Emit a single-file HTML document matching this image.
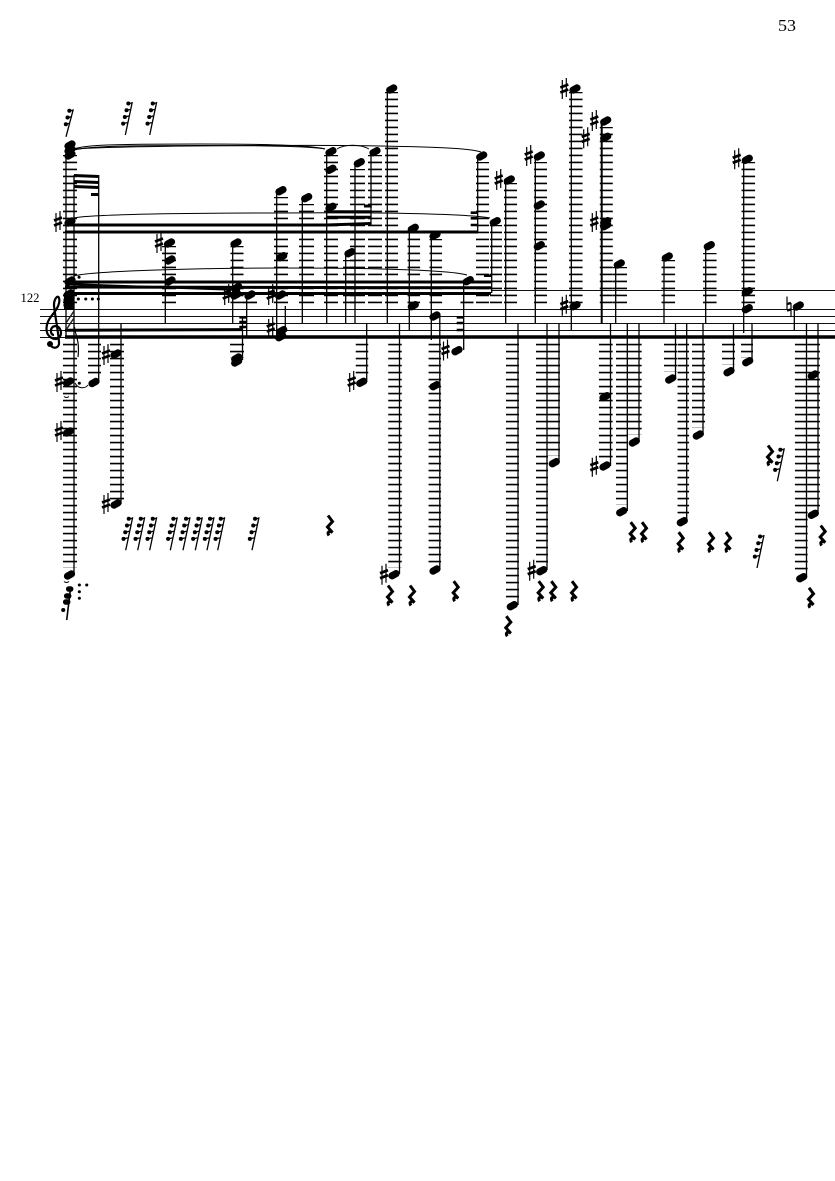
<!DOCTYPE html>
<html>
<head>
<meta charset="utf-8">
<style>
html,body{margin:0;padding:0;background:#fff;width:835px;height:1181px;overflow:hidden}
svg{display:block}
.t{font-family:"Liberation Serif",serif;fill:#000}
.st{stroke:#111;stroke-width:1;fill:none}
.s{stroke:#000;stroke-width:1.3;fill:none}
.b{stroke:#000;fill:none;stroke-width:3}
.n{stroke:#000;stroke-width:7.2;stroke-linecap:round;fill:none}
.l{stroke:#000;stroke-width:1.3;stroke-dasharray:1.7 5.3;fill:none}
.h{stroke:#000;stroke-width:1.2;fill:none}
.v{stroke:#000;stroke-width:2;fill:none}
.sl{stroke:#000;stroke-width:1;fill:none}
.d{stroke:#000;stroke-width:4;stroke-linecap:round;fill:none}
.d2{stroke:#000;stroke-width:3;stroke-linecap:round;fill:none}
</style>
</head>
<body>
<svg width="835" height="1181" viewBox="0 0 835 1181" xmlns="http://www.w3.org/2000/svg">
<rect width="835" height="1181" fill="#fff"/>
<text class="t" x="778" y="31" font-size="17" textLength="18" lengthAdjust="spacingAndGlyphs">53</text>
<text class="t" x="20.5" y="302" font-size="12.5" textLength="19" lengthAdjust="spacingAndGlyphs">122</text>

<!-- staff -->
<path class="st" d="M40 309.5H835M40 316.5H835M40 323.5H835M40 330.5H835M40 337.5H835"/>
<path class="st" d="M491 290.5H835"/>

<!-- upper ledgers: bottom-up -->
<path class="l" style="stroke-width:14" d="M70 303.3V155"/>
<path class="l" style="stroke-width:14" d="M169 303.3V246"/>
<path class="l" style="stroke-width:13" d="M237 303.3V246"/>
<path class="l" style="stroke-width:14" d="M281 303.3V197"/>
<path class="l" style="stroke-width:15" d="M306.500 303.3V204"/>
<path class="l" style="stroke-width:14" d="M331 303.3V155"/>
<path class="l" style="stroke-width:15" d="M357.500 303.3V169"/>
<path class="l" style="stroke-width:14" d="M375 303.3V155"/>
<path class="l" style="stroke-width:12" d="M349 303.3V260"/>
<path class="l" style="stroke-width:13" d="M391.500 303.3V92"/>
<path class="l" style="stroke-width:12.5" d="M413.800 303.3V232"/>
<path class="l" style="stroke-width:12.5" d="M435.800 303.3V239"/>
<path class="l" style="stroke-width:13" d="M482.500 303.3V162"/>
<path class="l" style="stroke-width:12" d="M496 303.3V225"/>
<path class="l" style="stroke-width:13" d="M510.500 303.3V183"/>
<path class="l" style="stroke-width:13" d="M540.500 303.3V162"/>
<path class="l" style="stroke-width:13.5" d="M575.800 303.3V92"/>
<path class="l" style="stroke-width:13" d="M606.300 303.3V127"/>
<path class="l" style="stroke-width:14" d="M620 303.3V267"/>
<path class="l" style="stroke-width:13.5" d="M668.300 303.3V260"/>
<path class="l" style="stroke-width:13.5" d="M709.800 303.3V253"/>
<path class="l" style="stroke-width:13.5" d="M748.300 303.3V162"/>
<path class="l" style="stroke-width:14" d="M250 303.3V300"/>
<path class="l" style="stroke-width:13" d="M467 303.3V300"/>

<!-- lower ledgers: top-down -->
<path class="l" style="stroke-width:14" d="M70 343.7V568"/>
<path class="l" style="stroke-width:13" d="M94.500 343.7V375"/>
<path class="l" style="stroke-width:14" d="M117 343.7V500"/>
<path class="l" style="stroke-width:14" d="M237 343.7V358"/>
<path class="l" style="stroke-width:12.5" d="M362 343.7V376"/>
<path class="l" style="stroke-width:13.5" d="M395 343.7V568"/>
<path class="l" style="stroke-width:12.5" d="M434.800 343.7V565"/>
<path class="l" style="stroke-width:13" d="M512.500 343.7V600"/>
<path class="l" style="stroke-width:12" d="M542 343.7V565"/>
<path class="l" style="stroke-width:12" d="M554 343.7V456"/>
<path class="l" style="stroke-width:13.7" d="M605.800 343.7V460"/>
<path class="l" style="stroke-width:12" d="M622 343.7V505"/>
<path class="l" style="stroke-width:13.7" d="M634.800 343.7V435"/>
<path class="l" style="stroke-width:13" d="M670.500 343.7V372"/>
<path class="l" style="stroke-width:11.5" d="M683.300 343.7V515"/>
<path class="l" style="stroke-width:13" d="M698.500 343.7V428"/>
<path class="l" style="stroke-width:13" d="M728.500 343.7V365"/>
<path class="l" style="stroke-width:12" d="M747 343.7V358"/>
<path class="l" style="stroke-width:12.7" d="M801.300 343.7V571"/>
<path class="l" style="stroke-width:12.3" d="M813.800 343.7V508"/>

<!-- stems -->
<path class="s" d="M74 175V575M66 145V337M98.700 175V382M121 323V504M165.300 243V323M232.700 243V323M246.700 295V337M242.500 317V360M276.700 190V337M285.300 306V332M302.300 198V323M326.700 152V323M355 163V323M371 152V225M345.700 253V323M387.300 90V323M409.300 228V330M431.300 235V340M463.700 280V350M477.700 156V232M491.700 222V293M505.700 180V323M535.300 156V323M571.300 90V330M615.700 264V323M664 257V323M705.700 246V323M743.700 160V333M794.300 306V330"/>
<path class="v" d="M601.700 121V323"/>
<path class="s" d="M366.700 323V382M399.500 323V574M439.800 316V570M518 323V605M547 323V570M559 323V462M610.500 323V466M627.300 323V511M639 323V442M675.500 323V379M686.700 323V521M703 323V435M733.500 323V371M752 323V361M806.500 323V577M818 323V514"/>

<!-- beams -->
<path class="b" d="M65 337H835" style="stroke-width:3.6"/>
<path class="b" d="M65 330.300L243 329.600"/>
<path class="b" d="M74 175.500L98.700 176.500M74 181.500L98.700 182.500M74 186.500L98.700 187.500M91 194.500H98.700"/>
<path class="b" d="M65 225L327 225L371 223.500"/>
<path class="b" d="M65 232H478"/>
<path class="b" d="M327 211.700H371M327 217.300H371M364 206H371.700"/>
<path class="b" d="M65 282H491"/>
<path class="b" d="M65 287L491 287.800"/>
<path class="b" d="M65 293.500H491"/>
<path class="b" style="stroke-width:2" d="M66 284L240 290"/>
<path class="b" style="stroke-width:2.6" d="M470.700 212.700H478M470.700 218.300H478M470.700 225H478"/>
<path class="b" style="stroke-width:2.6" d="M484 275.700H491.700"/>
<path class="b" style="stroke-width:2.6" d="M239.300 317.300H246.700M239.300 322H246.700M239.300 327H246.700"/>
<path class="b" style="stroke-width:2.6" d="M456.700 317.300H463.700M456.700 323H463.700M456.700 330H463.700"/>

<!-- slurs -->
<path class="sl" d="M74 149C85 145 110 144 200 144C260 144 310 145 325 149"/>
<path class="sl" d="M74 150C90 146 130 145.500 200 145.500C260 145.500 310 146 325 149"/>
<path class="sl" d="M337 149C345 144 360 144 369 149"/>
<path class="sl" d="M74 149C140 145 340 145 380 146C430 147 470 148 481 152"/>
<path class="sl" d="M74 218C90 214 200 213 280 213C380 212 470 214 490 218"/>
<path class="sl" d="M74 276C90 271 200 268 280 268C380 268 450 270 467 275"/>
<path class="sl" d="M75 383C78 389 85 389 88 385"/>
<path class="sl" d="M64 396.500Q66.500 398.500 69 396.500M64 581.500Q66.500 583.500 69 581.500"/>

<!-- noteheads -->
<path class="n" d="
M70 145m-2 1.100l4-2.200M70 150m-2 1.100l4-2.200M70 155m-2 1.100l4-2.200
M70 222m-2 1.100l4-2.200M70 281m-2 1.100l4-2.200
M69 294m-2 1.100l4-2.200M69 299m-2 1.100l4-2.200M69 304m-2 1.100l4-2.200
M68.500 382m-2 1.100l4-2.200M68.500 432m-2 1.100l4-2.200M69.500 575m-2 1.100l4-2.200
M94 382.500m-2 1.100l4-2.200M116 354m-2 1.100l4-2.200M116 504m-2 1.100l4-2.200
M169.500 243m-2 1.100l4-2.200M170 260m-2 1.100l4-2.200M170 281m-2 1.100l4-2.200
M236 243m-2 1.100l4-2.200M236.700 287.500m-2 1.100l4-2.200M236 295m-2 1.100l4-2.200M250 295m-2 1.100l4-2.200
M236.700 358m-2 1.100l4-2.200M236.700 362m-2 1.100l4-2.200
M281 190.700m-2 1.100l4-2.200M281.700 256.700m-2 1.100l4-2.200M280.700 295m-2 1.100l4-2.200M281.700 330.700m-2 1.100l4-2.200M280.700 336.700m-2 1.100l4-2.200
M306.700 197.700m-2 1.100l4-2.200M331 151.700m-2 1.100l4-2.200M331 169.300m-2 1.100l4-2.200M331 207.300m-2 1.100l4-2.200
M375 151.700m-2 1.100l4-2.200M359.300 162.700m-2 1.100l4-2.200M350 252.700m-2 1.100l4-2.200M391.700 89m-2 1.100l4-2.200
M413.300 228.300m-2 1.100l4-2.200M413.300 305.700m-2 1.100l4-2.200M435 235.300m-2 1.100l4-2.200M435 316m-2 1.100l4-2.200
M468.300 280.700m-2 1.100l4-2.200M457 350.700m-2 1.100l4-2.200M481.700 156m-2 1.100l4-2.200M495.300 221.700m-2 1.100l4-2.200M509.300 180m-2 1.100l4-2.200
M539.300 156m-2 1.100l4-2.200M539.300 205m-2 1.100l4-2.200M539.300 245.700m-2 1.100l4-2.200
M575 89m-2 1.100l4-2.200M575 305.700m-2 1.100l4-2.200
M605.700 121m-2 1.100l4-2.200M605.700 137.300m-2 1.100l4-2.200M605.700 221.700m-2 1.100l4-2.200M605.700 225.700m-2 1.100l4-2.200
M619.300 264m-2 1.100l4-2.200M667.300 257m-2 1.100l4-2.200M709.300 245.700m-2 1.100l4-2.200
M747.300 159.300m-2 1.100l4-2.200M747.300 291.700m-2 1.100l4-2.200M747.300 308.700m-2 1.100l4-2.200M798.300 306m-2 1.100l4-2.200
M361.700 382.300m-2 1.100l4-2.200M394 574.700m-2 1.100l4-2.200M435 385.700m-2 1.100l4-2.200M435 570m-2 1.100l4-2.200
M512.300 605.700m-2 1.100l4-2.200M541.700 570.700m-2 1.100l4-2.200M554.300 462.700m-2 1.100l4-2.200
M605 396.700m-2 1.100l4-2.200M605 466m-2 1.100l4-2.200M621.700 511.700m-2 1.100l4-2.200M634.300 442m-2 1.100l4-2.200
M670.700 379m-2 1.100l4-2.200M682.300 521.700m-2 1.100l4-2.200M698.300 435m-2 1.100l4-2.200M729 371.700m-2 1.100l4-2.200M747.700 361.700m-2 1.100l4-2.200
M801.700 577.700m-2 1.100l4-2.200M813.300 375m-2 1.100l4-2.200M813.300 514.300m-2 1.100l4-2.200"/>

<!-- sharps -->
<path class="h" d="
M58 222m-2-9v19m4-21v19M59 382m-2-9v19m4-21v19M59 432m-2-9v19m4-21v19
M106 355m-2-9v19m4-21v19M106 504m-2-9v19m4-21v19M159 243m-2-9v19m4-21v19
M226.700 295m-2-9v19m4-21v19M270.700 295m-2-9v19m4-21v19M270.700 328m-2-9v19m4-21v19
M351.700 382m-2-9v19m4-21v19M384 574.700m-2-9v19m4-21v19M445.500 350.500m-2-9v19m4-21v19
M498.700 180m-2-9v19m4-21v19M528.700 156m-2-9v19m4-21v19M531.700 570.700m-2-9v19m4-21v19
M564.300 89m-2-9v19m4-21v19M564.300 305.700m-2-9v19m4-21v19M585.700 138.300m-2-9v19m4-21v19
M594.300 121m-2-9v19m4-21v19M594.300 222m-2-9v19m4-21v19M594.300 466.700m-2-9v19m4-21v19
M736.700 159.300m-2-9v19m4-21v19"/>
<path stroke="#000" stroke-width="2.8" fill="none" d="
M58 222m-4-1.500l8-3m-8 8l8-3M59 382m-4-1.500l8-3m-8 8l8-3M59 432m-4-1.500l8-3m-8 8l8-3
M106 355m-4-1.500l8-3m-8 8l8-3M106 504m-4-1.500l8-3m-8 8l8-3M159 243m-4-1.500l8-3m-8 8l8-3
M226.700 295m-4-1.500l8-3m-8 8l8-3M270.700 295m-4-1.500l8-3m-8 8l8-3M270.700 328m-4-1.500l8-3m-8 8l8-3
M351.700 382m-4-1.500l8-3m-8 8l8-3M384 574.700m-4-1.500l8-3m-8 8l8-3M445.500 350.500m-4-1.500l8-3m-8 8l8-3
M498.700 180m-4-1.500l8-3m-8 8l8-3M528.700 156m-4-1.500l8-3m-8 8l8-3M531.700 570.700m-4-1.500l8-3m-8 8l8-3
M564.300 89m-4-1.500l8-3m-8 8l8-3M564.300 305.700m-4-1.500l8-3m-8 8l8-3M585.700 138.300m-4-1.500l8-3m-8 8l8-3
M594.300 121m-4-1.500l8-3m-8 8l8-3M594.300 222m-4-1.500l8-3m-8 8l8-3M594.300 466.700m-4-1.500l8-3m-8 8l8-3
M736.700 159.300m-4-1.500l8-3m-8 8l8-3"/>
<!-- natural -->
<path class="h" d="M787 296.500V310M791 303V317"/>
<path stroke="#000" stroke-width="2.4" fill="none" d="M787 304L791 303M787 310.500L791 309.500"/>

<!-- clef -->
<path fill="none" stroke="#000" stroke-width="2.200" d="M50 344C52 349 58 349 59 344C59.500 338 54 310 54 305C54 299 57 296 58.500 297C61 301 58 308 53 314C49 319 46.500 323 46.500 329C46.500 336 52 339 56 339C61 338 62 333 60 329C58 325 52 325 51 330C50.500 333 52 335 54 335"/>
<path d="M50 344m-3 0a3 3 0 1 0 6 0a3 3 0 1 0 -6 0" fill="#000"/>

<!-- chord block, slashes, flag, dots on the first column -->
<rect x="64" y="293" width="10" height="17" fill="#000"/>
<path stroke="#222" stroke-width="1.500" fill="none" d="M66 323L74 311M66 330L74 318"/>
<path stroke="#000" stroke-width="1.200" fill="none" d="M74.500 327C75 335 80 340 78 357"/>
<path class="d2" d="M78.300 299h.1M85.700 299h.1M92.300 299h.1M98.300 299h.1M79 277.300h.1M79.300 383.300h.1M79.300 585h.1M86.700 585h.1M79.300 591.700h.1M79.300 598.300h.1"/>

<!-- 64th rests -->
<g transform="translate(73.300 109.300)"><path class="s" d="M0 0L-7.300 27.500M-4 1.500L-.4 1M-5.800 8.200L-2 7.500M-7.500 15L-3.700 14"/><path class="d" d="M-4 1.500h.1M-5.800 8.200h.1M-7.500 15h.1"/></g>
<g transform="translate(132.300 102)"><path class="s" d="M0 0L-7 33M-4 1.500L-.4 1M-5.800 8.200L-2 7.500M-7.500 15L-3.500 14M-9.200 21.600L-5 20.600"/><path class="d" d="M-4 1.500h.1M-5.800 8.200h.1M-7.500 15h.1M-9.200 21.600h.1"/></g>
<g transform="translate(156.700 102)"><path class="s" d="M0 0L-7 33M-4 1.500L-.4 1M-5.800 8.200L-2 7.500M-7.500 15L-3.500 14M-9.200 21.600L-5 20.600"/><path class="d" d="M-4 1.500h.1M-5.800 8.200h.1M-7.500 15h.1M-9.200 21.600h.1"/></g>
<g transform="translate(132.700 517.300)"><path class="s" d="M0 0L-7 33M-4 1.500L-.4 1M-5.800 8.200L-2 7.500M-7.500 15L-3.500 14M-9.200 21.600L-5 20.600"/><path class="d" d="M-4 1.500h.1M-5.800 8.200h.1M-7.500 15h.1M-9.200 21.600h.1"/></g>
<g transform="translate(144.700 517.300)"><path class="s" d="M0 0L-7 33M-4 1.500L-.4 1M-5.800 8.200L-2 7.500M-7.500 15L-3.500 14M-9.200 21.600L-5 20.600"/><path class="d" d="M-4 1.500h.1M-5.800 8.200h.1M-7.500 15h.1M-9.200 21.600h.1"/></g>
<g transform="translate(156.700 517.300)"><path class="s" d="M0 0L-7 33M-4 1.500L-.4 1M-5.800 8.200L-2 7.500M-7.500 15L-3.500 14M-9.200 21.600L-5 20.600"/><path class="d" d="M-4 1.500h.1M-5.800 8.200h.1M-7.500 15h.1M-9.200 21.600h.1"/></g>
<g transform="translate(177.300 517.300)"><path class="s" d="M0 0L-7 33M-4 1.500L-.4 1M-5.800 8.200L-2 7.500M-7.500 15L-3.500 14M-9.200 21.600L-5 20.600"/><path class="d" d="M-4 1.500h.1M-5.800 8.200h.1M-7.500 15h.1M-9.200 21.600h.1"/></g>
<g transform="translate(190 517.300)"><path class="s" d="M0 0L-7 33M-4 1.500L-.4 1M-5.800 8.200L-2 7.500M-7.500 15L-3.500 14M-9.200 21.600L-5 20.600"/><path class="d" d="M-4 1.500h.1M-5.800 8.200h.1M-7.500 15h.1M-9.200 21.600h.1"/></g>
<g transform="translate(202.300 517.300)"><path class="s" d="M0 0L-7 33M-4 1.500L-.4 1M-5.800 8.200L-2 7.500M-7.500 15L-3.500 14M-9.200 21.600L-5 20.600"/><path class="d" d="M-4 1.500h.1M-5.800 8.200h.1M-7.500 15h.1M-9.200 21.600h.1"/></g>
<g transform="translate(214 517.300)"><path class="s" d="M0 0L-7 33M-4 1.500L-.4 1M-5.800 8.200L-2 7.500M-7.500 15L-3.500 14M-9.200 21.600L-5 20.600"/><path class="d" d="M-4 1.500h.1M-5.800 8.200h.1M-7.500 15h.1M-9.200 21.600h.1"/></g>
<g transform="translate(224.700 517.300)"><path class="s" d="M0 0L-7 33M-4 1.500L-.4 1M-5.800 8.200L-2 7.500M-7.500 15L-3.500 14M-9.200 21.600L-5 20.600"/><path class="d" d="M-4 1.500h.1M-5.800 8.200h.1M-7.500 15h.1M-9.200 21.600h.1"/></g>
<g transform="translate(259 517.300)"><path class="s" d="M0 0L-7 33M-4 1.500L-.4 1M-5.800 8.200L-2 7.500M-7.500 15L-3.500 14M-9.200 21.600L-5 20.600"/><path class="d" d="M-4 1.500h.1M-5.800 8.200h.1M-7.500 15h.1M-9.200 21.600h.1"/></g>
<g transform="translate(784.300 448.300)"><path class="s" d="M0 0L-7 33M-4 1.500L-.4 1M-5.800 8.200L-2 7.500M-7.500 15L-3.500 14M-9.200 21.600L-5 20.600"/><path class="d" d="M-4 1.500h.1M-5.800 8.200h.1M-7.500 15h.1M-9.200 21.600h.1"/></g>
<g transform="translate(764 535)"><path class="s" d="M0 0L-7 33M-4 1.500L-.4 1M-5.800 8.200L-2 7.500M-7.500 15L-3.500 14M-9.200 21.600L-5 20.600"/><path class="d" d="M-4 1.500h.1M-5.800 8.200h.1M-7.500 15h.1M-9.200 21.600h.1"/></g>
<g transform="translate(70.700 587)"><path stroke="#000" stroke-width="1.600" fill="none" d="M0 0L-4 33"/><path class="n" style="stroke-width:5.500" d="M-2 2h2M-4 9h2M-5 15h2"/><path class="d" d="M-7.500 23h.1"/></g>

<!-- quarter rests -->
<g fill="none" stroke="#000" stroke-linejoin="miter" stroke-width="3">
<path transform="translate(330 525)" d="M-2-9.500L2.500-3.500-2.500 2 2.500 7.500C-.500 5.500-3.500 7-1 10.500"/>
<path transform="translate(390 595)" d="M-2-9.500L2.500-3.500-2.500 2 2.500 7.500C-.500 5.500-3.500 7-1 10.500"/>
<path transform="translate(412 595)" d="M-2-9.500L2.500-3.500-2.500 2 2.500 7.500C-.500 5.500-3.500 7-1 10.500"/>
<path transform="translate(455.700 590.700)" d="M-2-9.500L2.500-3.500-2.500 2 2.500 7.500C-.500 5.500-3.500 7-1 10.500"/>
<path transform="translate(508.300 625.700)" d="M-2-9.500L2.500-3.500-2.500 2 2.500 7.500C-.500 5.500-3.500 7-1 10.500"/>
<path transform="translate(540.700 590.700)" d="M-2-9.500L2.500-3.500-2.500 2 2.500 7.500C-.500 5.500-3.500 7-1 10.500"/>
<path transform="translate(553.300 590.700)" d="M-2-9.500L2.500-3.500-2.500 2 2.500 7.500C-.500 5.500-3.500 7-1 10.500"/>
<path transform="translate(574 590.700)" d="M-2-9.500L2.500-3.500-2.500 2 2.500 7.500C-.500 5.500-3.500 7-1 10.500"/>
<path transform="translate(632.700 531.700)" d="M-2-9.500L2.500-3.500-2.500 2 2.500 7.500C-.500 5.500-3.500 7-1 10.500"/>
<path transform="translate(644 531.700)" d="M-2-9.500L2.500-3.500-2.500 2 2.500 7.500C-.500 5.500-3.500 7-1 10.500"/>
<path transform="translate(680.700 541.700)" d="M-2-9.500L2.500-3.500-2.500 2 2.500 7.500C-.500 5.500-3.500 7-1 10.500"/>
<path transform="translate(711 541.700)" d="M-2-9.500L2.500-3.500-2.500 2 2.500 7.500C-.500 5.500-3.500 7-1 10.500"/>
<path transform="translate(728 541.700)" d="M-2-9.500L2.500-3.500-2.500 2 2.500 7.500C-.500 5.500-3.500 7-1 10.500"/>
<path transform="translate(811 597.300)" d="M-2-9.500L2.500-3.500-2.500 2 2.500 7.500C-.500 5.500-3.500 7-1 10.500"/>
<path transform="translate(822.700 535)" d="M-2-9.500L2.500-3.500-2.500 2 2.500 7.500C-.500 5.500-3.500 7-1 10.500"/>
<path transform="translate(770 455)" d="M-2-9.500L2.500-3.500-2.500 2 2.500 7.500C-.500 5.500-3.500 7-1 10.500"/>
</g>
</svg>
</body>
</html>
